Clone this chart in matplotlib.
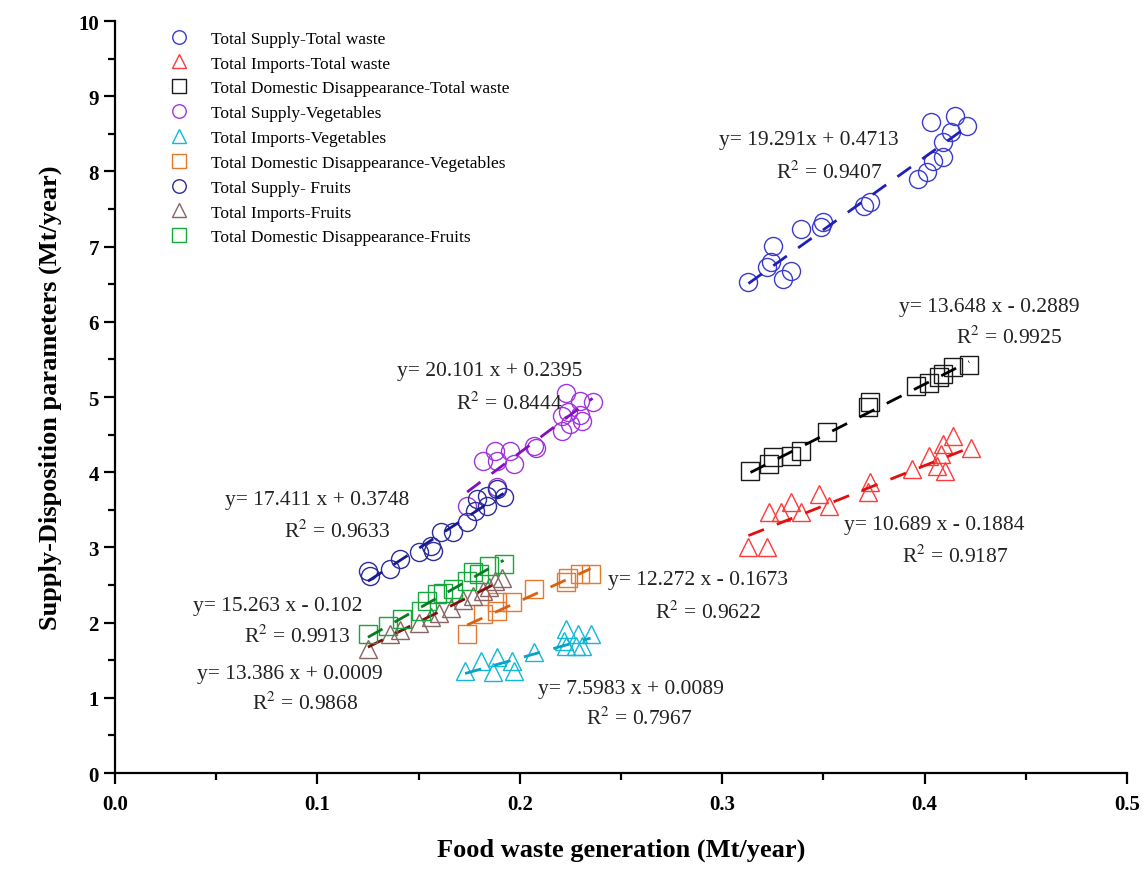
import numpy as np
import matplotlib
matplotlib.use("Agg")
import matplotlib.pyplot as plt
from matplotlib.ticker import MultipleLocator

plt.rcParams['font.family'] = ['Liberation Serif', 'DejaVu Serif']
plt.rcParams['mathtext.fontset'] = 'stix'

# --- data (x: food waste, y: supply-disposition) ---
supply_total_x = [0.313, 0.322, 0.324, 0.325, 0.330, 0.334, 0.339, 0.349, 0.350, 0.370, 0.373,
                  0.397, 0.401, 0.404, 0.409, 0.409, 0.403, 0.413, 0.415, 0.421]
supply_total_y = [6.53, 6.73, 6.79, 7.01, 6.57, 6.68, 7.23, 7.26, 7.33, 7.54, 7.59,
                  7.90, 7.99, 8.14, 8.19, 8.39, 8.66, 8.52, 8.74, 8.60]

imports_total_x = [0.313, 0.322, 0.323, 0.329, 0.334, 0.339, 0.348, 0.353, 0.372, 0.373,
                   0.394, 0.402, 0.406, 0.408, 0.410, 0.409, 0.414, 0.423]
imports_total_y = [3.00, 3.00, 3.47, 3.47, 3.60, 3.47, 3.71, 3.55, 3.74, 3.87,
                   4.04, 4.22, 4.08, 4.24, 4.02, 4.38, 4.48, 4.32]

domestic_total_x = [0.314, 0.323, 0.325, 0.334, 0.339, 0.352, 0.372, 0.373,
                    0.396, 0.402, 0.407, 0.409, 0.414, 0.422]
domestic_total_y = [4.02, 4.11, 4.20, 4.22, 4.28, 4.53, 4.87, 4.93,
                    5.15, 5.19, 5.26, 5.31, 5.40, 5.43]

supply_veg_x = [0.174, 0.182, 0.189, 0.188, 0.195, 0.197, 0.189, 0.207, 0.208,
                0.221, 0.225, 0.231, 0.221, 0.223, 0.230, 0.236, 0.224, 0.230]
supply_veg_y = [3.55, 4.15, 4.15, 4.28, 4.28, 4.11, 3.80, 4.35, 4.32,
                4.75, 4.64, 4.68, 4.55, 5.05, 4.95, 4.93, 4.80, 4.76]

imports_veg_x = [0.173, 0.181, 0.187, 0.189, 0.196, 0.197, 0.207, 0.223, 0.222,
                 0.229, 0.235, 0.228, 0.231, 0.223]
imports_veg_y = [1.36, 1.49, 1.34, 1.54, 1.49, 1.36, 1.61, 1.91, 1.76,
                 1.85, 1.85, 1.69, 1.69, 1.69]

domestic_veg_x = [0.174, 0.182, 0.189, 0.189, 0.196, 0.207, 0.223, 0.224, 0.230, 0.235]
domestic_veg_y = [1.85, 2.11, 2.15, 2.27, 2.27, 2.45, 2.54, 2.60, 2.65, 2.65]

supply_fruit_x = [0.126, 0.125, 0.136, 0.141, 0.150, 0.156, 0.157, 0.161, 0.167,
                  0.174, 0.178, 0.179, 0.184, 0.192, 0.184, 0.189]
supply_fruit_y = [2.62, 2.68, 2.71, 2.85, 2.94, 3.02, 2.95, 3.20, 3.20,
                  3.34, 3.49, 3.64, 3.69, 3.67, 3.55, 3.78]

imports_fruit_x = [0.125, 0.136, 0.141, 0.150, 0.156, 0.160, 0.166, 0.172, 0.177,
                   0.182, 0.185, 0.188, 0.191]
imports_fruit_y = [1.65, 1.85, 1.90, 2.00, 2.08, 2.13, 2.20, 2.30, 2.35,
                   2.42, 2.48, 2.55, 2.60]

domestic_fruit_x = [0.125, 0.135, 0.142, 0.151, 0.154, 0.159, 0.162, 0.167, 0.174,
                    0.177, 0.180, 0.185, 0.192]
domestic_fruit_y = [1.85, 1.95, 2.05, 2.15, 2.29, 2.38, 2.40, 2.45, 2.55,
                    2.67, 2.65, 2.75, 2.78]

labels = ["Total Supply-Total waste", "Total Imports-Total waste",
          "Total Domestic Disappearance-Total waste", "Total Supply-Vegetables",
          "Total Imports-Vegetables", "Total Domestic Disappearance-Vegetables",
          "Total Supply- Fruits", "Total Imports-Fruits", "Total Domestic Disappearance-Fruits"]
slopes = [19.291, 10.689, 13.648, 20.101, 7.5983, 12.272, 17.411, 13.386, 15.263]
intercepts = [0.4713, -0.1884, -0.2889, 0.2395, 0.0089, -0.1673, 0.3748, 0.0009, -0.102]
eq_texts = ["y= 19.291x + 0.4713", "y= 10.689 x - 0.1884", "y= 13.648 x - 0.2889",
            "y= 20.101 x + 0.2395", "y= 7.5983 x + 0.0089", "y= 12.272 x - 0.1673",
            "y= 17.411 x + 0.3748", "y= 13.386 x + 0.0009", "y= 15.263 x - 0.102"]
r2_texts = ["0.9407", "0.9187", "0.9925", "0.8444", "0.7967", "0.9622",
            "0.9633", "0.9868", "0.9913"]

series = [(supply_total_x, supply_total_y), (imports_total_x, imports_total_y),
          (domestic_total_x, domestic_total_y), (supply_veg_x, supply_veg_y),
          (imports_veg_x, imports_veg_y), (domestic_veg_x, domestic_veg_y),
          (supply_fruit_x, supply_fruit_y), (imports_fruit_x, imports_fruit_y),
          (domestic_fruit_x, domestic_fruit_y)]

markers = ['o', '^', 's', 'o', '^', 's', 'o', '^', 's']
colors = ['#3b3bd0', '#ff3a3a', '#1a1a1a', '#a035e0', '#12b8d8', '#e8782c',
          '#2c2c9c', '#8a6464', '#14a83c']
line_colors = ['#2020b8', '#e01010', '#000000', '#8010c0', '#0aa0c8', '#d86010',
               '#1a1a90', '#801010', '#0a7a20']
# label positions (centre of equation line, centre of R2 line)
eq_pos = [(0.343, 8.43), (0.405, 3.30), (0.432, 6.21), (0.185, 5.35), (0.255, 1.12),
          (0.288, 2.58), (0.100, 3.64), (0.0865, 1.33), (0.0805, 2.23)]
r2_pos = [(0.353, 8.00), (0.415, 2.89), (0.442, 5.80), (0.195, 4.93), (0.259, 0.74),
          (0.293, 2.15), (0.110, 3.22), (0.094, 0.93), (0.090, 1.82)]

fig = plt.figure(figsize=(11.45, 8.7), dpi=100)
ax = fig.add_axes([0.1004, 0.1103, 0.8838, 0.8644])

for i, (xs, ys) in enumerate(series):
    ax.plot(xs, ys, linestyle='none', marker=markers[i], markersize=13,
            markerfacecolor='none', markeredgecolor=colors[i], markeredgewidth=1.0,
            label=labels[i])
    xl = np.array([min(xs), max(xs)])
    ax.plot(xl, slopes[i] * xl + intercepts[i], linestyle=(0, (6, 5)),
            color=line_colors[i], linewidth=2)
    ax.text(*eq_pos[i], eq_texts[i], ha='center', va='center', fontsize=15.5, color='#222222')
    ax.text(*r2_pos[i], 'R$^{2}$ = ' + r2_texts[i], ha='center', va='center',
            fontsize=15.5, color='#222222')

ax.set_xlim(0, 0.5)
ax.set_ylim(0, 10)
ax.xaxis.set_major_locator(MultipleLocator(0.1))
ax.xaxis.set_minor_locator(MultipleLocator(0.05))
ax.yaxis.set_major_locator(MultipleLocator(1))
ax.yaxis.set_minor_locator(MultipleLocator(0.5))
ax.xaxis.set_major_formatter(plt.FormatStrFormatter('%.1f'))
ax.spines['top'].set_visible(False)
ax.spines['right'].set_visible(False)
for s in ['left', 'bottom']:
    ax.spines[s].set_linewidth(1.6)
ax.tick_params(which='major', direction='out', length=8, width=1.6, labelsize=15)
ax.tick_params(which='minor', direction='out', length=5, width=1.6)
for lab in ax.get_xticklabels() + ax.get_yticklabels():
    lab.set_fontweight('bold')
ax.tick_params(axis='x', pad=7)

ax.set_xlabel('Food waste generation (Mt/year)', fontsize=19, fontweight='bold', labelpad=17)
ax.set_ylabel('Supply-Disposition parameters (Mt/year)', fontsize=19, fontweight='bold',
              labelpad=12)

leg = ax.legend(loc='upper left', bbox_to_anchor=(0.037, 1.0), frameon=False,
                fontsize=12.5, markerscale=0.75, handletextpad=0.8, labelspacing=0.5,
                borderaxespad=0.15)

fig.savefig('out.png', dpi=100)
